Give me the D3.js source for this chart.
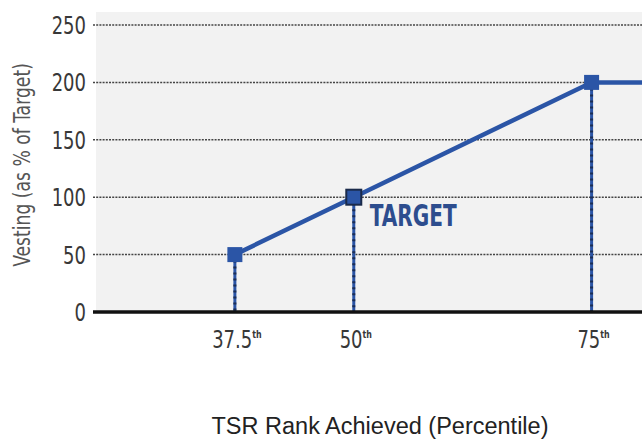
<!DOCTYPE html>
<html><head><meta charset="utf-8">
<script src="https://cdn.jsdelivr.net/npm/d3@7"></script>
<style>body{margin:0;background:#fff}svg{display:block}</style>
</head><body><svg id="c" width="642" height="441"></svg>
<script>
const percentiles = [37.5, 50, 75, 80.3];
const vesting = [50, 100, 200, 200];
const markerPercentiles = [37.5, 50, 75];
const markerVesting = [50, 100, 200];
const yTicks = [0, 50, 100, 150, 200, 250];
const xTickLabels = ["37.5", "50", "75"];
const targetLabel = "TARGET";
const yTitle = "Vesting (as % of Target)";
const xTitle = "TSR Rank Achieved (Percentile)";

const svg = d3.select("#c");
const cond = "'Liberation Sans Narrow','Arial Narrow','DejaVu Sans Condensed',sans-serif";
const x = d3.scaleLinear().domain([22.9, 80.3]).range([96, 642]);
const y = d3.scaleLinear().domain([0, 250]).range([312, 25]);

svg.append("rect").attr("x", 96).attr("y", 12).attr("width", 546).attr("height", 300).attr("fill", "#f2f2f2");

// gridlines
svg.append("g").selectAll("line").data(yTicks.filter(d => d > 0)).join("line")
  .attr("x1", 93).attr("x2", 642).attr("y1", d => y(d)).attr("y2", d => y(d))
  .attr("stroke", "#444").attr("stroke-width", 1.5).attr("stroke-dasharray", "2,1.2");

// y axis labels
const yAxis = d3.axisLeft(y).tickValues(yTicks).tickSize(0).tickPadding(0);
const ya = svg.append("g").call(yAxis);
ya.select(".domain").remove();
ya.selectAll(".tick").attr("transform", d => `translate(86,${y(d)}) scale(0.8,1)`);
ya.selectAll("text").attr("font-family", cond).attr("font-size", 25).attr("fill", "#383838")
  .attr("x", 0).attr("dy", "0.36em");

// vertical drop lines
const drops = svg.append("g");
drops.selectAll("line.b").data(markerPercentiles).join("line")
  .attr("x1", d => x(d)).attr("x2", d => x(d))
  .attr("y1", (d, i) => y(markerVesting[i])).attr("y2", y(0))
  .attr("stroke", "#2b55a6").attr("stroke-width", 3);
drops.selectAll("line.d").data(markerPercentiles).join("line")
  .attr("x1", d => x(d)).attr("x2", d => x(d))
  .attr("y1", (d, i) => y(markerVesting[i])).attr("y2", y(0))
  .attr("stroke", "#1c2e55").attr("stroke-width", 3).attr("stroke-dasharray", "2,4");

// x axis line
svg.append("line").attr("x1", 93).attr("x2", 642).attr("y1", y(0)).attr("y2", y(0))
  .attr("stroke", "#111").attr("stroke-width", 3.5);

// main line
const line = d3.line().x((d, i) => x(percentiles[i])).y(d => y(d));
svg.append("path").datum(vesting).attr("d", line).attr("fill", "none")
  .attr("stroke", "#2b55a6").attr("stroke-width", 4.5);

// markers
svg.selectAll("rect.m").data(markerPercentiles).join("rect").attr("class", "m")
  .attr("x", d => x(d) - 7.5).attr("y", (d, i) => y(markerVesting[i]) - 7.5)
  .attr("width", 15).attr("height", 15)
  .attr("fill", "#2b55a6")
  .attr("stroke", (d, i) => i === 1 ? "#1a2a4a" : "none").attr("stroke-width", 2);

// TARGET label
svg.append("text")
  .attr("transform", `translate(${x(50) + 16},${y(100) + 29}) scale(0.72,1)`)
  .attr("font-family", cond).attr("font-weight", "bold").attr("font-size", 31)
  .attr("fill", "#2d4d8e")
  .text(targetLabel);

// x tick labels
const xt = svg.append("g").selectAll("text").data(markerPercentiles).join("text")
  .attr("transform", d => `translate(${x(d) + 2},348) scale(0.8,1)`)
  .attr("text-anchor", "middle").attr("font-family", cond).attr("font-size", 25).attr("fill", "#383838");
xt.append("tspan").text((d, i) => xTickLabels[i]);
xt.append("tspan").attr("font-size", 11).attr("dy", -10).attr("font-weight", "bold").text("th");

// y title
svg.append("text").attr("transform", "translate(30,165) rotate(-90) scale(0.85,1)")
  .attr("text-anchor", "middle").attr("font-family", cond).attr("font-size", 22.5).attr("fill", "#555")
  .text(yTitle);

// x title
svg.append("text").attr("x", 380).attr("y", 434).attr("text-anchor", "middle")
  .attr("font-family", "'Liberation Sans', Arial, sans-serif").attr("font-size", 23.5).attr("fill", "#222")
  .text(xTitle);
</script></body></html>
